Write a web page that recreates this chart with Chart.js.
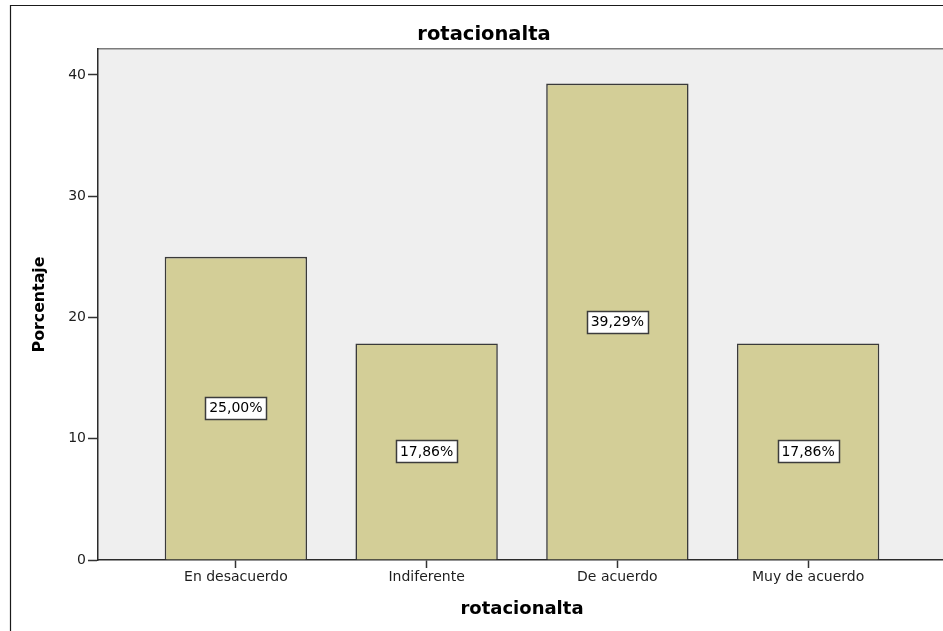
<!DOCTYPE html>
<html>
<head>
<meta charset="utf-8">
<script src="https://cdn.jsdelivr.net/npm/chart.js@4/dist/chart.umd.min.js"></script>
<style>
  html, body { margin: 0; padding: 0; background: #fff; }
  #wrap { width: 943px; height: 631px; overflow: hidden; position: relative; }
  canvas { display: block; }
</style>
</head>
<body>
<div id="wrap"><canvas id="c" width="968" height="631"></canvas></div>
<script>
// Categories and percentages for the "rotacionalta" item
const categories = ['En desacuerdo', 'Indiferente', 'De acuerdo', 'Muy de acuerdo'];
const percentages = [25.00, 17.86, 39.29, 17.86];
const yTicks = [0, 10, 20, 30, 40];

const FONT = "'DejaVu Sans', 'Liberation Sans', sans-serif";
Chart.defaults.font.family = FONT;
Chart.defaults.color = '#1e1e1e';

// Page frame and grey plot background
const backdrop = {
  id: 'backdrop',
  beforeDraw(chart) {
    const { ctx, chartArea: a, width, height } = chart;
    ctx.save();
    ctx.fillStyle = '#ffffff';
    ctx.fillRect(0, 0, width, height);
    ctx.strokeStyle = '#1a1a1a';
    ctx.lineWidth = 1.2;
    ctx.beginPath();
    ctx.moveTo(10.5, height + 2);
    ctx.lineTo(10.5, 5.5);
    ctx.lineTo(width + 2, 5.5);
    ctx.stroke();
    ctx.fillStyle = '#efefef';
    ctx.fillRect(a.left, a.top, width - a.left, a.bottom - a.top);
    ctx.strokeStyle = '#7c7c7c';
    ctx.lineWidth = 1.5;
    ctx.beginPath();
    ctx.moveTo(a.left, a.top - 0.25);
    ctx.lineTo(width, a.top - 0.25);
    ctx.stroke();
    ctx.restore();
  }
};

// Percentage boxes at the middle of each bar
const valueBoxes = {
  id: 'valueBoxes',
  afterDatasetsDraw(chart) {
    const { ctx } = chart;
    const meta = chart.getDatasetMeta(0);
    ctx.save();
    ctx.font = '14px ' + FONT;
    ctx.textAlign = 'center';
    ctx.textBaseline = 'middle';
    meta.data.forEach((bar, i) => {
      const text = percentages[i].toFixed(2).replace('.', ',') + '%';
      const tw = ctx.measureText(text).width;
      const w = Math.round(tw + 8), h = 22;
      const cx = bar.x, cy = (bar.y + bar.base) / 2;
      const x0 = Math.round(cx - w / 2) + 0.5, y0 = Math.round(cy - h / 2) + 0.5;
      ctx.fillStyle = '#ffffff';
      ctx.fillRect(x0, y0, w, h);
      ctx.strokeStyle = '#3c3c3c';
      ctx.lineWidth = 1.5;
      ctx.strokeRect(x0, y0, w, h);
      ctx.fillStyle = '#000000';
      ctx.fillText(text, cx, cy + 0.5);
    });
    ctx.restore();
  }
};

new Chart(document.getElementById('c'), {
  type: 'bar',
  data: {
    datasets: [{
      data: categories.map((c, i) => ({ x: i, y: percentages[i] })),
      backgroundColor: '#d3ce97',
      borderColor: '#3a3a3a',
      borderWidth: 1.6,
      barPercentage: 0.7465,
      categoryPercentage: 1
    }]
  },
  options: {
    responsive: false,
    animation: false,
    devicePixelRatio: 1,
    layout: { padding: { left: 22, right: 22, top: 0, bottom: 0 } },
    plugins: {
      legend: { display: false },
      tooltip: { enabled: false },
      title: {
        display: true,
        text: 'rotacionalta',
        color: '#000',
        font: { size: 19.5, weight: 'bold', family: FONT },
        padding: { top: 23, bottom: 2.6 }
      }
    },
    scales: {
      x: {
        type: 'linear',
        offset: false,
        min: -0.7229,
        max: 3.7229,
        afterBuildTicks: s => { s.ticks = categories.map((_, i) => ({ value: i })); },
        afterFit: s => { s.height = 71; },
        ticks: {
          callback: v => categories[v],
          font: { size: 14 },
          color: '#1e1e1e',
          padding: 1,
          maxRotation: 0,
          autoSkip: false
        },
        grid: { offset: false, drawOnChartArea: false, tickLength: 8, tickColor: '#333', tickWidth: 1.5 },
        border: { color: '#2b2b2b', width: 1.5 },
        title: {
          display: true,
          text: 'rotacionalta',
          color: '#000',
          font: { size: 18, weight: 'bold', family: FONT },
          padding: { top: 0, bottom: 10.6 }
        }
      },
      y: {
        min: 0,
        max: 42.144,
        afterBuildTicks: s => { s.ticks = yTicks.map(v => ({ value: v })); },
        afterFit: s => { s.width = 76; },
        ticks: { font: { size: 14 }, color: '#1e1e1e', padding: 2 },
        grid: { drawOnChartArea: false, tickLength: 10, tickColor: '#333', tickWidth: 1.5 },
        border: { color: '#2b2b2b', width: 1.5 },
        title: {
          display: true,
          text: 'Porcentaje',
          color: '#000',
          font: { size: 15.8, weight: 'bold', family: FONT },
          padding: { top: 8.5, bottom: 0 }
        }
      }
    }
  },
  plugins: [backdrop, valueBoxes]
});
</script>
</body>
</html>
